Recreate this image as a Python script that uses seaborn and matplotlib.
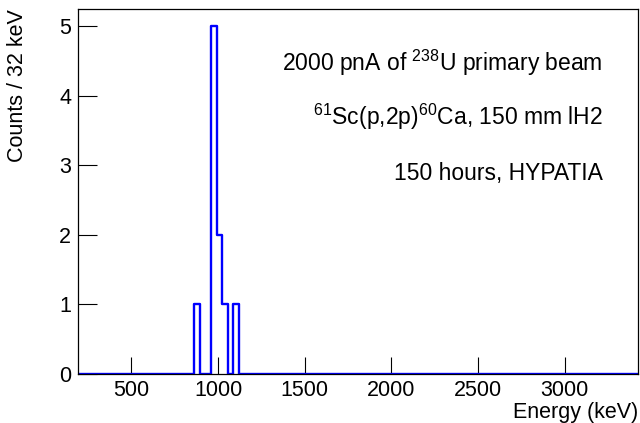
# Gamma spectrum, 60Ca from 61Sc(p,2p)

import numpy as np
import pandas as pd
import matplotlib
matplotlib.use('Agg')
import matplotlib.pyplot as plt
import seaborn as sns

# --- data ---
# filled bins (bin centre in keV) and counts, 32 keV bins
energy_kev = [880, 976, 1008, 1040, 1104]
counts = [1, 5, 2, 1, 1]
bin_start = 192
bin_width = 32
n_bins = 101

x_ticks = [500, 1000, 1500, 2000, 2500, 3000]
y_ticks = [0, 1, 2, 3, 4, 5]

info_lines = [
    r'2000 pnA of $^{238}$U primary beam',
    r'$^{61}$Sc(p,2p)$^{60}$Ca, 150 mm lH2',
    '150 hours, HYPATIA',
]

df = pd.DataFrame({'energy': energy_kev, 'counts': counts})
edges = [bin_start + bin_width * i for i in range(n_bins + 1)]

sns.set_style('ticks')
plt.rcParams['font.family'] = ['Liberation Sans', 'DejaVu Sans']
plt.rcParams['mathtext.fontset'] = 'custom'
plt.rcParams['mathtext.rm'] = 'Liberation Sans'
plt.rcParams['mathtext.it'] = 'Liberation Sans'
plt.rcParams['text.color'] = 'black'

W, H = 640, 423
fig = plt.figure(figsize=(W / 100, H / 100), dpi=100)
ax = fig.add_axes([78 / W, 49 / H, 560 / W, 365 / H])

sns.histplot(data=df, x='energy', weights='counts', bins=edges,
             element='step', fill=False, color='#0000ff', linewidth=1.7, ax=ax)

ax.set_xlim(edges[0], edges[-1])
ax.set_ylim(0, 5.25)
ax.set_xticks(x_ticks)
ax.set_yticks(y_ticks)
ax.set_xlabel('')
ax.set_ylabel('')
ax.tick_params(axis='x', direction='in', length=12, width=0.8, labelsize=15.5, pad=4, colors='black')
ax.tick_params(axis='y', direction='in', length=14, width=0.8, labelsize=15.5, pad=5, colors='black')
for s in ax.spines.values():
    s.set_visible(True)
    s.set_linewidth(0.9)
    s.set_color('black')

# annotation lines, right aligned
for txt, yb in zip(info_lines, [71, 125, 180]):
    fig.text(603 / W, 1 - yb / H, txt, ha='right', va='baseline', fontsize=16.5)

fig.text(18 / W, 1 - 9 / H, 'Counts / 32 keV', rotation=90, ha='center', va='top', fontsize=15.5)
fig.text(638 / W, 1 - 412 / H, 'Energy (keV)', ha='right', va='center', fontsize=15.5)

fig.savefig('out.png', dpi=100)
